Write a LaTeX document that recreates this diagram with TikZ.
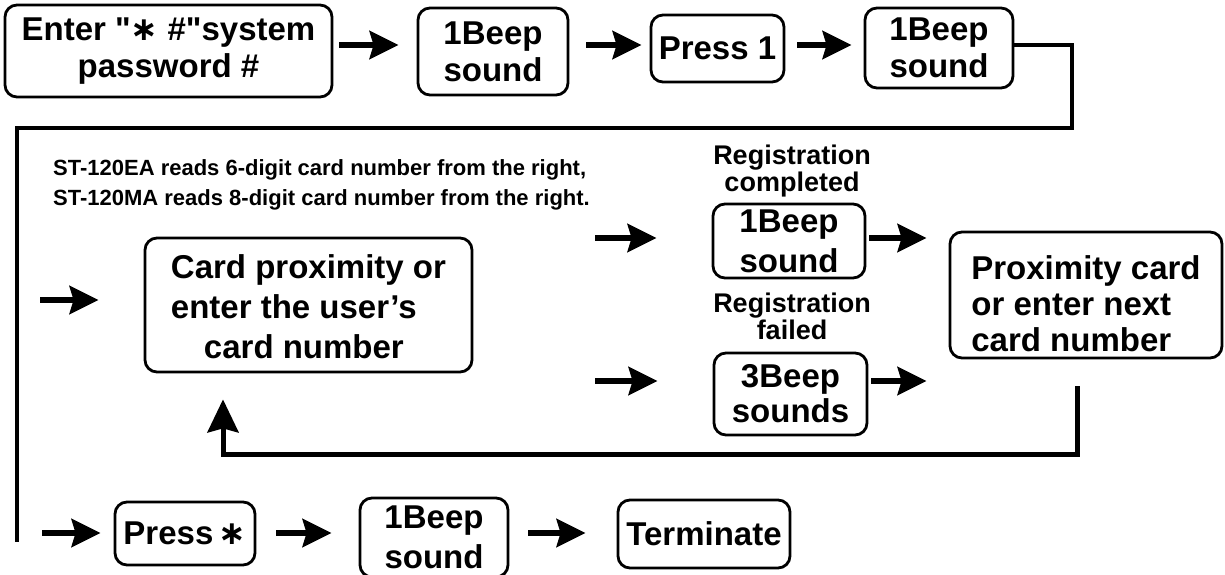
\documentclass[tikz,border=0pt]{standalone}
\usepackage{fontspec}
\setmainfont{Liberation Sans}[Ligatures=TeXOff]
\newfontfamily\symfont{DejaVu Sans}
\usetikzlibrary{arrows.meta}
\newcommand{\myast}{{\symfont\bfseries ∗}}
\tikzset{
  box/.style={draw, line width=2.8pt, rounded corners=12pt, align=center, inner sep=0pt,
    font=\bfseries\fontsize{33}{37}\selectfont},
  arr/.style={line width=5.5pt, -{Stealth[length=29pt,width=28pt,inset=4pt]}},
  retline/.style={line width=5pt},
  lbl/.style={font=\bfseries\fontsize{27}{27}\selectfont, align=center, inner sep=0pt},
  note/.style={font=\bfseries\fontsize{22}{30}\selectfont, align=left, inner sep=0pt}
}
\begin{document}
\begin{tikzpicture}[x=1pt,y=-1pt]
\useasboundingbox (0,0) rectangle (1225,575);
% top row
\node[box, minimum width=327pt, minimum height=92pt] (A) at (168.5,51) {Enter "\myast\ \#"system\\password \#};
\node[box, minimum width=150pt, minimum height=87pt] (B) at (493,51.5) {1Beep\\sound};
\node[box, minimum width=133pt, minimum height=67pt] (C) at (717.5,48.5) {Press 1};
\node[box, minimum width=148pt, minimum height=80pt] (D) at (939,48) {1Beep\\sound};
\coordinate (rowy) at (0,45);
\draw[arr, shorten <=6pt, shorten >=18pt] (rowy -| A.east) -- (rowy -| B.west);
\draw[arr, shorten <=17pt, shorten >=8pt] (rowy -| B.east) -- (rowy -| C.west);
\draw[arr, shorten <=12pt, shorten >=12pt] (rowy -| C.east) -- (rowy -| D.west);
\coordinate (ltop) at (1072,128);
\coordinate (lleft) at (17,128);
\coordinate (lbot) at (17,542);
\draw[retline, line width=4.5pt] (rowy -| D.east) -| (ltop) -- (lleft) -- (lbot);
% note
\node[note, anchor=west] (note) at (53,185) {ST-120EA reads 6-digit card number from the right,\\ST-120MA reads 8-digit card number from the right.};
% middle
\node[box, minimum width=327pt, minimum height=134pt, align=left, font=\bfseries\fontsize{33}{40}\selectfont] (E) at (308.5,305) {\rule{0pt}{28pt}Card proximity or\\enter the user’s\\\hspace*{33pt}card number};
\coordinate (inE) at (40,300);
\draw[arr, shorten >=45pt] (inE) -- (inE -| E.west);
\node[lbl] (regok) at (792,171) {Registration\\completed};
\node[lbl] (regfail) at (792,316) {Registration\\failed};
\node[box, minimum width=152pt, minimum height=74pt, font=\bfseries\fontsize{33}{40}\selectfont] (F) at (789,241) {1Beep\\sound};
\node[box, minimum width=153pt, minimum height=82pt, font=\bfseries\fontsize{33}{35}\selectfont] (G) at (790.5,394) {3Beep\\sounds};
\node[box, minimum width=272pt, minimum height=126pt, align=left, font=\bfseries\fontsize{33}{36}\selectfont] (H) at (1086,295) {\rule{0pt}{42pt}Proximity card\\or enter next\\card number};
\coordinate (toF) at (595,238);
\coordinate (toG) at (595,381);
\draw[arr, shorten >=55pt] (toF) -- (toF -| F.west);
\draw[arr, shorten >=55pt] (toG) -- (toG -| G.west);
\draw[arr, shorten <=3pt, shorten >=22pt] (toF -| F.east) -- (toF -| H.west);
\draw[arr, shorten <=3pt, shorten >=22pt] (toG -| G.east) -- (toG -| H.west);
\coordinate (ret1) at (1077,454);
\coordinate (ret2) at (223,454);
\draw[retline, -{Stealth[length=33pt,width=31pt,inset=4pt]}, shorten <=27pt, shorten >=26pt] (H.south -| ret1) -- (ret1) -- (ret2) -- (ret2 |- E.south);
% bottom row
\node[box, minimum width=140pt, minimum height=63pt] (P) at (185,533.5) {Press\,\myast};
\node[box, minimum width=148pt, minimum height=79pt, font=\bfseries\fontsize{33}{40}\selectfont] (Q) at (434,537.5) {1Beep\\sound};
\node[box, minimum width=172pt, minimum height=68pt] (T) at (704,534) {Terminate};
\coordinate (inP) at (42,533);
\draw[arr, shorten >=13pt] (inP) -- (inP -| P.west);
\draw[arr, shorten <=20pt, shorten >=27pt] (inP -| P.east) -- (inP -| Q.west);
\draw[arr, shorten <=19pt, shorten >=31pt] (inP -| Q.east) -- (inP -| T.west);
\end{tikzpicture}
\end{document}
